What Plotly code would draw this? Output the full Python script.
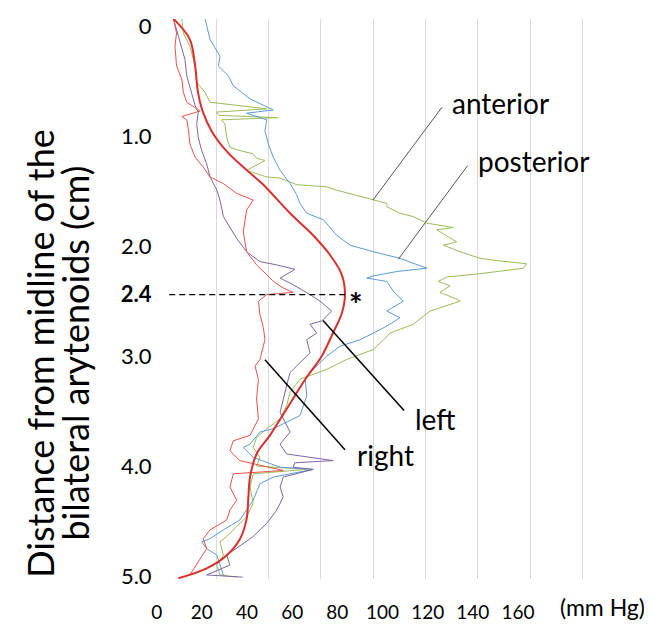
import plotly.graph_objects as go

# ---------------- data (pressure in mm Hg vs distance in cm) ----------------
anterior_depth = [-0.07, 0.06, 0.18, 0.36, 0.51, 0.60, 0.69, 0.72, 0.75, 0.78, 0.81, 0.83, 0.85, 0.89,
                  1.01, 1.10, 1.13, 1.16, 1.20, 1.22, 1.28, 1.31, 1.37, 1.38, 1.44, 1.46, 1.49, 1.53,
                  1.58, 1.61, 1.64, 1.70, 1.73, 1.79, 1.83, 1.85, 1.96, 1.99, 2.05, 2.11, 2.13, 2.16,
                  2.20, 2.25, 2.28, 2.32, 2.36, 2.42, 2.48, 2.50, 2.59, 2.71, 2.79, 2.85, 2.94, 3.03,
                  3.12, 3.21, 3.33, 3.45, 3.57, 3.66, 3.74, 3.83, 3.92, 4.00, 4.03, 4.07, 4.19, 4.34,
                  4.46, 4.52, 4.64, 4.69, 4.81, 4.90, 4.99, 5.01]
anterior_p = [6.8, 7.4, 9.9, 11.9, 12.5, 15.7, 17.6, 29.0, 39.3, 20.0, 21.0, 43.5, 22.0, 23.3,
              24.0, 25.2, 29.0, 34.1, 35.4, 38.6, 34.1, 31.6, 39.3, 44.4, 50.7, 62.2, 66.0, 72.4,
              80.0, 85.2, 85.2, 90.2, 95.3, 100.5, 110.6, 104.3, 111.9, 106.8, 113.2, 120.8, 127.2, 138.7,
              137.4, 120.8, 108.1, 104.9, 109.4, 105.5, 111.9, 113.2, 101.7, 95.3, 86.4, 84.0, 80.0, 69.9,
              62.2, 52.0, 48.2, 46.9, 44.4, 39.3, 35.4, 34.1, 36.7, 35.4, 54.6, 34.1, 32.9, 34.1,
              31.6, 29.0, 24.0, 21.4, 22.7, 20.2, 21.4, 27.8]

posterior_depth = [-0.07, 0.00, 0.12, 0.27, 0.36, 0.45, 0.54, 0.66, 0.72, 0.76, 0.79, 0.85, 0.95, 1.07,
                   1.19, 1.31, 1.43, 1.53, 1.61, 1.70, 1.76, 1.90, 1.99, 2.05, 2.11, 2.15, 2.20, 2.23,
                   2.27, 2.29, 2.32, 2.41, 2.50, 2.59, 2.65, 2.70, 2.76, 2.85, 2.91, 3.00, 3.12, 3.21,
                   3.36, 3.54, 3.60, 3.66, 3.69, 3.80, 3.83, 3.92, 4.01, 4.03, 4.10, 4.16, 4.31, 4.40,
                   4.49, 4.58, 4.66, 4.69, 4.75, 4.81, 4.90, 4.99]
posterior_p = [15.7, 16.3, 17.6, 21.4, 20.8, 24.6, 26.5, 32.9, 38.0, 41.8, 31.6, 39.3, 38.6, 39.9,
               41.8, 44.4, 48.2, 50.7, 52.0, 54.6, 61.0, 66.0, 71.1, 80.0, 90.2, 95.0, 100.5, 89.0,
               80.0, 77.5, 85.2, 87.7, 91.5, 85.2, 90.2, 87.0, 82.6, 75.0, 67.3, 62.2, 57.1, 54.0,
               54.6, 52.0, 46.9, 41.8, 36.7, 32.9, 30.3, 34.1, 44.4, 57.1, 41.8, 36.7, 34.1, 31.6,
               29.0, 22.7, 17.6, 14.4, 16.3, 20.2, 21.4, 22.7]

left_depth = [-0.07, 0.03, 0.15, 0.30, 0.45, 0.60, 0.72, 0.78, 0.89, 1.01, 1.13, 1.25, 1.37, 1.49,
              1.58, 1.73, 1.93, 2.05, 2.14, 2.17, 2.21, 2.29, 2.35, 2.44, 2.50, 2.59, 2.68, 2.71,
              2.79, 2.85, 2.97, 3.06, 3.15, 3.21, 3.39, 3.51, 3.69, 3.80, 3.89, 3.95, 3.97, 4.01,
              4.03, 4.10, 4.19, 4.28, 4.40, 4.52, 4.64, 4.75, 4.81, 4.90, 4.99, 5.01]
left_p = [3.6, 4.8, 6.1, 8.0, 8.7, 10.6, 11.9, 13.1, 12.5, 13.1, 14.4, 16.3, 17.6, 20.2,
          21.4, 22.7, 27.8, 31.6, 36.7, 43.1, 50.1, 44.4, 49.4, 55.8, 59.7, 64.1, 60.3, 55.8,
          58.4, 54.6, 55.8, 52.0, 48.2, 47.5, 45.6, 44.4, 48.2, 44.4, 46.9, 64.7, 50.0, 49.4,
          57.0, 45.6, 44.4, 45.6, 43.1, 39.3, 34.1, 27.8, 24.0, 25.2, 16.3, 30.0]

right_depth = [-0.07, 0.06, 0.18, 0.36, 0.48, 0.60, 0.69, 0.77, 0.82, 0.85, 0.95, 1.07, 1.19, 1.28,
               1.37, 1.43, 1.52, 1.58, 1.67, 1.87, 2.05, 2.17, 2.26, 2.32, 2.38, 2.42, 2.44, 2.50,
               2.62, 2.74, 2.85, 2.97, 3.03, 3.09, 3.21, 3.39, 3.57, 3.72, 3.77, 3.86, 3.95, 4.04,
               4.07, 4.19, 4.31, 4.40, 4.49, 4.58, 4.66, 4.75, 4.84, 4.99]
right_p = [3.6, 4.8, 4.2, 4.8, 6.8, 7.4, 8.7, 13.8, 6.8, 8.7, 9.4, 9.9, 11.9, 15.0,
           17.6, 22.7, 27.8, 34.1, 31.6, 30.3, 31.6, 35.4, 39.3, 41.8, 45.6, 49.4, 39.3, 36.1,
           36.7, 38.0, 38.6, 37.4, 36.7, 34.8, 36.1, 35.4, 36.1, 32.9, 26.5, 25.2, 29.0, 45.6,
           26.5, 25.2, 27.8, 25.2, 24.0, 17.6, 15.0, 16.3, 13.8, 9.9]

fit_depth = [-0.07, 0.12, 0.36, 0.60, 0.78, 0.96, 1.14, 1.31, 1.43, 1.70, 1.90, 2.08, 2.26, 2.44,
             2.61, 2.79, 3.00, 3.19, 3.48, 3.72, 3.89, 4.10, 4.31, 4.48, 4.66, 4.81, 4.93, 5.02]
fit_p = [3.6, 9.9, 11.9, 13.0, 14.9, 18.4, 24.1, 31.7, 37.5, 48.2, 57.0, 63.5, 68.0, 69.2,
         68.0, 64.6, 60.3, 54.6, 46.9, 40.5, 35.4, 32.9, 32.2, 31.6, 29.1, 24.0, 16.3, 5.5]

peak_depth = 2.44
peak_pressure = 69.2

x_ticks = [0, 20, 40, 60, 80, 100, 120, 140, 160]
x_tick_labels = ["0", "20", "40", "60", "80", "100", "120", "140", "160"]
y_ticks = [0, 1, 2, peak_depth, 3, 4, 5]
y_tick_labels = ["0", "1.0", "2.0", "<b>2.4</b>", "3.0", "4.0", "5.0"]

# ---------------- figure ----------------
fig = go.Figure()
series = [
    (anterior_p, anterior_depth, "#9BBB59", 1),
    (posterior_p, posterior_depth, "#5B9BD5", 1),
    (left_p, left_depth, "#8064A2", 1),
    (right_p, right_depth, "#E5534B", 1),
]
for xs, ys, col, w in series:
    fig.add_trace(go.Scatter(x=xs, y=ys, mode="lines", line=dict(color=col, width=w),
                             showlegend=False, hoverinfo="skip"))
fig.add_trace(go.Scatter(x=fit_p, y=fit_depth, mode="lines",
                         line=dict(color="#D9302B", width=2, shape="spline", smoothing=1.0),
                         showlegend=False, hoverinfo="skip"))
# empty trace that registers the label axis (x2) so its tick labels are drawn
fig.add_trace(go.Scatter(x=[], y=[], xaxis="x2", yaxis="y", mode="lines",
                         showlegend=False, hoverinfo="skip"))

FONT = "Lato, Calibri, 'Open Sans', sans-serif"

shapes = [
    dict(type="line", xref="x", yref="y", x0=2.0, x1=peak_pressure, y0=peak_depth, y1=peak_depth,
         line=dict(color="black", width=1.3, dash="6px,4px")),
    dict(type="line", xref="x", yref="y", x0=79.9, y0=1.58, x1=106.3, y1=0.735,
         line=dict(color="#555555", width=1)),
    dict(type="line", xref="x", yref="y", x0=89.6, y0=2.118, x1=116.1, y1=1.266,
         line=dict(color="#555555", width=1)),
    dict(type="line", xref="x", yref="y", x0=60.8, y0=2.676, x1=91.8, y1=3.495,
         line=dict(color="black", width=1.5)),
    dict(type="line", xref="x", yref="y", x0=38.6, y0=3.032, x1=69.2, y1=3.851,
         line=dict(color="black", width=1.5)),
]

lab = dict(size=28, family=FONT, color="black")
annotations = [
    dict(x=128.5, y=0.70, xref="x", yref="y", text="anterior", showarrow=False, font=lab),
    dict(x=141.3, y=1.224, xref="x", yref="y", text="posterior", showarrow=False, font=lab),
    dict(x=103.8, y=3.57, xref="x", yref="y", text="left", showarrow=False, font=lab),
    dict(x=84.7, y=3.90, xref="x", yref="y", text="right", showarrow=False, font=lab),
    dict(x=peak_pressure + 4.3, y=peak_depth + 0.09, xref="x", yref="y", text="<b>*</b>",
         showarrow=False, font=dict(size=32, family=FONT, color="black")),
    dict(x=0.932, y=-0.0507, xref="paper", yref="paper", text="(mm Hg)", showarrow=False,
         xanchor="center", yanchor="middle", font=dict(size=23, family=FONT, color="black")),
    dict(x=-0.227, y=0.404, xref="paper", yref="paper", text="Distance from midline of the",
         textangle=-90, showarrow=False, xanchor="center", yanchor="middle",
         font=dict(size=36, family=FONT, color="black")),
    dict(x=-0.155, y=0.404, xref="paper", yref="paper", text="bilateral arytenoids (cm)",
         textangle=-90, showarrow=False, xanchor="center", yanchor="middle",
         font=dict(size=36, family=FONT, color="black")),
]

fig.update_layout(
    width=644, height=619,
    margin=dict(l=142, r=17, t=4, b=43),
    paper_bgcolor="white", plot_bgcolor="rgba(0,0,0,0)",
    showlegend=False,
    font=dict(family=FONT, color="black"),
    xaxis=dict(domain=[0.02887, 1], range=[0, 180.1], tickvals=x_ticks, showticklabels=False,
               showgrid=True, gridcolor="#d9d9d9", gridwidth=1, zeroline=False, showline=False,
               ticks=""),
    xaxis2=dict(domain=[0, 1], anchor="y", range=[-2.97, 211.8], tickvals=x_ticks,
                ticktext=x_tick_labels, showgrid=False, zeroline=False, showline=False,
                ticks="outside", ticklen=16, tickcolor="rgba(0,0,0,0)",
                ticklabeloverflow="allow",
                tickfont=dict(size=19, family=FONT, color="black")),
    yaxis=dict(domain=[0, 1], anchor="x", range=[5.027, -0.067], tickvals=y_ticks,
               ticktext=y_tick_labels, showgrid=False, zeroline=False, showline=False,
               ticks="outside", ticklen=7, tickcolor="rgba(0,0,0,0)",
               ticklabeloverflow="allow",
               tickfont=dict(size=22, family=FONT, color="black")),
    shapes=shapes,
    annotations=annotations,
)

fig.write_html("out.html")
